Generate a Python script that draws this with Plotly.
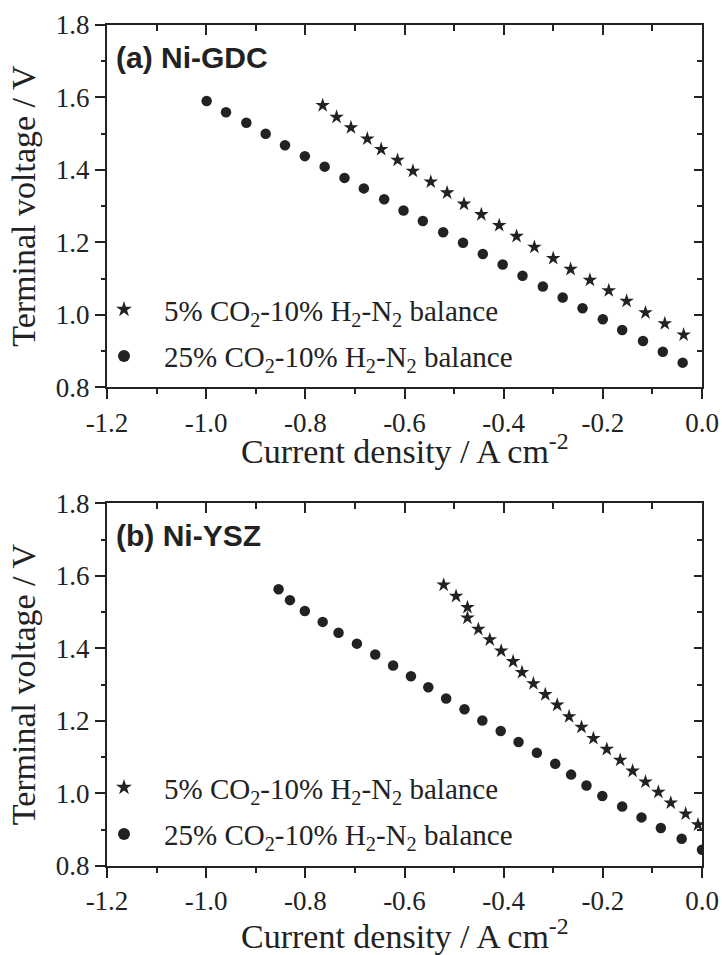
import plotly.graph_objects as go

# ---- data: (a) Ni-GDC ----
gdc_x_5co2 = [-0.765, -0.737, -0.708, -0.675, -0.647, -0.614, -0.583, -0.547, -0.514, -0.480, -0.445,
              -0.409, -0.374, -0.338, -0.300, -0.265, -0.226, -0.188, -0.152, -0.114, -0.075, -0.037]
gdc_v_5co2 = [1.578, 1.546, 1.517, 1.486, 1.457, 1.427, 1.397, 1.367, 1.337, 1.306, 1.277,
              1.247, 1.217, 1.187, 1.156, 1.126, 1.096, 1.067, 1.038, 1.006, 0.976, 0.945]
gdc_x_25co2 = [-0.999, -0.960, -0.919, -0.880, -0.841, -0.801, -0.761, -0.721, -0.682, -0.641, -0.602,
               -0.563, -0.522, -0.482, -0.442, -0.402, -0.362, -0.321, -0.281, -0.241, -0.200, -0.161,
               -0.119, -0.079, -0.039]
gdc_v_25co2 = [1.590, 1.559, 1.530, 1.500, 1.468, 1.438, 1.409, 1.378, 1.349, 1.319, 1.288,
               1.259, 1.228, 1.199, 1.168, 1.139, 1.108, 1.078, 1.048, 1.018, 0.988, 0.958,
               0.928, 0.898, 0.868]

# ---- data: (b) Ni-YSZ ----
ysz_x_5co2 = [-0.521, -0.496, -0.473, -0.473, -0.451, -0.428, -0.405, -0.381, -0.363, -0.340, -0.316, -0.292,
              -0.268, -0.243, -0.219, -0.192, -0.165, -0.140, -0.114, -0.088, -0.063, -0.033, -0.008]
ysz_v_5co2 = [1.575, 1.544, 1.513, 1.484, 1.453, 1.424, 1.393, 1.364, 1.334, 1.303, 1.273, 1.244,
              1.212, 1.183, 1.152, 1.122, 1.092, 1.062, 1.032, 1.004, 0.974, 0.944, 0.914]
ysz_x_25co2 = [-0.854, -0.831, -0.801, -0.765, -0.733, -0.696, -0.659, -0.623, -0.587, -0.552, -0.516,
               -0.479, -0.443, -0.406, -0.370, -0.333, -0.296, -0.264, -0.233, -0.201, -0.161, -0.122,
               -0.083, -0.041, 0.0]
ysz_v_25co2 = [1.563, 1.533, 1.503, 1.473, 1.443, 1.413, 1.383, 1.353, 1.323, 1.293, 1.262,
               1.232, 1.201, 1.172, 1.142, 1.112, 1.082, 1.052, 1.022, 0.993, 0.964, 0.934,
               0.905, 0.875, 0.845]

series_names = ["5% CO<sub>2</sub>-10% H<sub>2</sub>-N<sub>2</sub> balance",
                "25% CO<sub>2</sub>-10% H<sub>2</sub>-N<sub>2</sub> balance"]
panel_labels = ["<b>(a) Ni-GDC</b>", "<b>(b) Ni-YSZ</b>"]
x_title = "Current density / A cm<sup>-2</sup>"
y_title = "Terminal voltage / V"
x_ticks = [-1.2, -1.0, -0.8, -0.6, -0.4, -0.2, 0.0]
y_ticks = [0.8, 1.0, 1.2, 1.4, 1.6, 1.8]

INK = "#222222"
SERIF = "Liberation Serif"
W, H = 722, 955

x_dom = [107 / W, 702 / W]
y_doms = [[1 - 387.3 / H, 1 - 25 / H], [1 - 866 / H, 1 - 503.3 / H]]
x_title_y = [-0.235, -0.252]   # bottom edge of the x title, in y-domain units

fig = go.Figure()

panels = [
    (gdc_x_5co2, gdc_v_5co2, gdc_x_25co2, gdc_v_25co2),
    (ysz_x_5co2, ysz_v_5co2, ysz_x_25co2, ysz_v_25co2),
]

for p, (xs, vs, xc, vc) in enumerate(panels):
    xa = "x" if p == 0 else "x2"
    ya = "y" if p == 0 else "y2"
    leg = "legend" if p == 0 else "legend2"
    fig.add_trace(go.Scatter(
        x=xs, y=vs, mode="markers", name=series_names[0], xaxis=xa, yaxis=ya,
        marker=dict(symbol="star", size=11, color=INK, line=dict(width=0)),
        legend=leg, legendgroup=f"s{p}", legendrank=1,
    ))
    fig.add_trace(go.Scatter(
        x=xc, y=vc, mode="markers", name=series_names[1], xaxis=xa, yaxis=ya,
        marker=dict(symbol="circle", size=10.5, color=INK, line=dict(width=0)),
        legend=leg, legendgroup=f"c{p}", legendrank=2,
    ))
    # empty traces to bring up the mirror axes (top / right) with inward ticks
    top_ax = "x3" if p == 0 else "x4"
    right_ax = "y3" if p == 0 else "y4"
    fig.add_trace(go.Scatter(x=[], y=[], xaxis=top_ax, yaxis=ya, showlegend=False, hoverinfo="skip"))
    fig.add_trace(go.Scatter(x=[], y=[], xaxis=xa, yaxis=right_ax, showlegend=False, hoverinfo="skip"))


def main_x(domain, anchor):
    return dict(
        domain=domain, anchor=anchor, range=[-1.2, 0.0], tickvals=x_ticks, automargin=False,
        ticktext=[f"{v:.1f}" for v in x_ticks],
        showline=True, linecolor=INK, linewidth=2, showgrid=False, zeroline=False,
        ticks="outside", ticklen=10, tickwidth=2, tickcolor=INK,
        minor=dict(ticks="outside", ticklen=5, tickwidth=2, tickcolor=INK, dtick=0.1, showgrid=False),
        tickfont=dict(family=SERIF, size=27, color=INK),
    )


def main_y(domain, anchor):
    return dict(
        domain=domain, anchor=anchor, range=[0.8, 1.8], tickvals=y_ticks, automargin=False,
        ticktext=[f"{v:.1f}" for v in y_ticks],
        showline=True, linecolor=INK, linewidth=2, showgrid=False, zeroline=False,
        ticks="outside", ticklen=10, tickwidth=2, tickcolor=INK,
        minor=dict(ticks="outside", ticklen=4, tickwidth=2, tickcolor=INK, dtick=0.1, showgrid=False),
        tickfont=dict(family=SERIF, size=27, color=INK),
        title=dict(text=y_title, font=dict(family=SERIF, size=34, color=INK), standoff=10),
    )


def mirror_x(over, anchor):
    return dict(
        overlaying=over, anchor=anchor, side="top", range=[-1.2, 0.0], tickvals=x_ticks, automargin=False,
        showticklabels=False, showline=True, linecolor=INK, linewidth=2, showgrid=False, zeroline=False,
        ticks="inside", ticklen=10, tickwidth=2, tickcolor=INK,
        minor=dict(ticks="inside", ticklen=6, tickwidth=2, tickcolor=INK, dtick=0.1, showgrid=False),
    )


def mirror_y(over, anchor):
    return dict(
        overlaying=over, anchor=anchor, side="right", range=[0.8, 1.8], tickvals=y_ticks, automargin=False,
        showticklabels=False, showline=True, linecolor=INK, linewidth=2, showgrid=False, zeroline=False,
        ticks="inside", ticklen=8, tickwidth=2, tickcolor=INK,
        minor=dict(ticks="inside", ticklen=5, tickwidth=2, tickcolor=INK, dtick=0.1, showgrid=False),
    )


legend_style = dict(
    font=dict(family=SERIF, size=29, color=INK), bgcolor="rgba(0,0,0,0)",
    traceorder="grouped", tracegroupgap=6, itemsizing="constant", itemwidth=70,
    xanchor="left", yanchor="top",
)

fig.update_layout(
    width=W, height=H,
    margin=dict(l=0, r=0, t=0, b=0),
    paper_bgcolor="white", plot_bgcolor="white",
    xaxis=main_x(x_dom, "y"),
    yaxis=main_y(y_doms[0], "x"),
    xaxis2=main_x(x_dom, "y2"),
    yaxis2=main_y(y_doms[1], "x2"),
    xaxis3=mirror_x("x", "y"),
    yaxis3=mirror_y("y", "x"),
    xaxis4=mirror_x("x2", "y2"),
    yaxis4=mirror_y("y2", "x2"),
    legend=dict(x=84 / W, y=1 - 284 / H, **legend_style),
    legend2=dict(x=84 / W, y=1 - 762 / H, **legend_style),
    showlegend=True,
)

for p, label in enumerate(panel_labels):
    xa = "x" if p == 0 else "x2"
    ya = "y" if p == 0 else "y2"
    fig.add_annotation(
        text=label, xref=f"{xa} domain", yref=f"{ya} domain", x=0.012, y=0.911,
        xanchor="left", yanchor="middle", showarrow=False,
        font=dict(family="Liberation Sans", size=30, color=INK),
    )
    # x axis title as an annotation so the top one can sit closer to its tick labels
    fig.add_annotation(
        text=x_title, xref=f"{xa} domain", yref=f"{ya} domain", x=0.5, y=x_title_y[p],
        xanchor="center", yanchor="bottom", showarrow=False,
        font=dict(family=SERIF, size=34, color=INK),
    )

# page body has a default 8px margin that shifts the figure; drop it
fig.write_html("out.html", config={"displayModeBar": False},
               post_script="document.body.style.margin='0';")
